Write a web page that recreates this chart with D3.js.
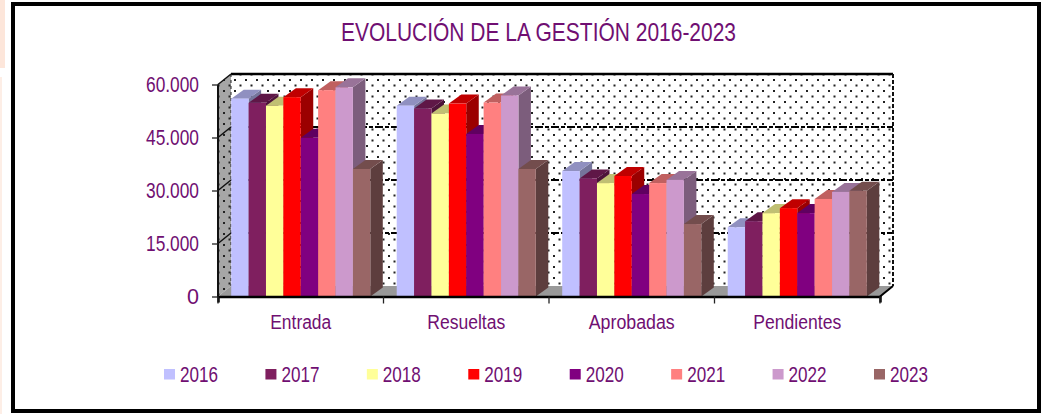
<!DOCTYPE html>
<html><head><meta charset="utf-8">
<script src="https://cdn.jsdelivr.net/npm/d3@7"></script>
<style>html,body{margin:0;padding:0;background:#fff;overflow:hidden}svg{display:block}text{font-family:"Liberation Sans",Arial,sans-serif;fill:#700f72}</style>
</head><body><svg id="c" width="1045" height="414"></svg>
<script>
const categories=["Entrada","Resueltas","Aprobadas","Pendientes"];
const years=["2016","2017","2018","2019","2020","2021","2022","2023"];
const s2016=[56000,54000,35500,19600];
const s2017=[54800,53200,33400,21300];
const s2018=[54000,51800,32100,23600];
const s2019=[56400,54600,34100,25000];
const s2020=[44900,46000,29000,23600];
const s2021=[58400,54900,32100,27600];
const s2022=[59200,56900,33000,29600];
const s2023=[36100,36100,20500,29900];
const series=[s2016,s2017,s2018,s2019,s2020,s2021,s2022,s2023];
const colors=["#c0c0ff","#7f1f5f","#ffff99","#ff0000","#800080","#ff8080","#cc99cc","#996666"];
const yTicks=[0,15000,30000,45000,60000];
const yLabels=["0","15.000","30.000","45.000","60.000"];

const svg=d3.select("#c");
const L=218,R=880,B=296.5,T=84.5,DX=13,DY=10.5,BDX=12.5,BDY=9;
const x=d3.scaleBand().domain(categories).range([L,R]);
const bx=d3.scaleBand().domain(years).range([0,x.bandwidth()]).paddingOuter(0.76);
const y=d3.scaleLinear().domain([0,60000]).range([B,T]);
const defs=svg.append("defs");
function pat(id,bg){const p=defs.append("pattern").attr("id",id).attr("width",11).attr("height",11).attr("patternUnits","userSpaceOnUse");
 p.append("rect").attr("width",11).attr("height",11).attr("fill",bg);
 p.append("rect").attr("x",3).attr("y",2).attr("width",2).attr("height",2).attr("fill","#222");
 p.append("rect").attr("x",8.5).attr("y",7.5).attr("width",2).attr("height",2).attr("fill","#222");}
pat("pw","#fff");pat("pg","#a6a6a6");

// page edge and frame
svg.append("rect").attr("x",0).attr("y",0).attr("width",5).attr("height",68).attr("fill","#fde6da");
svg.append("rect").attr("x",0).attr("y",77).attr("width",2).attr("height",337).attr("fill","#fdeee6");
svg.append("rect").attr("x",13).attr("y",4).attr("width",1026).attr("height",407).attr("fill","#fff").attr("stroke","#000").attr("stroke-width",4);

svg.append("text").attr("x",341).attr("y",41).attr("font-size",26).attr("textLength",395).attr("lengthAdjust","spacingAndGlyphs").text("EVOLUCIÓN DE LA GESTIÓN 2016-2023");

// walls
svg.append("rect").attr("x",L+DX).attr("y",T-DY).attr("width",R-L).attr("height",B-T).attr("fill","url(#pw)");
svg.append("path").attr("d",`M${L},${T}L${L+DX},${T-DY}V${B-DY}L${L},${B}Z`).attr("fill","url(#pg)");
svg.append("path").attr("d",`M${L},${B}L${L+DX},${B-DY}H${R+DX}L${R},${B}Z`).attr("fill","#999");
// gridlines
yTicks.slice(1).forEach(v=>{
 const yy=y(v)-DY;
 svg.append("line").attr("x1",L+DX).attr("x2",R+DX).attr("y1",yy).attr("y2",yy).attr("stroke","#000").attr("stroke-width",v===60000?2.5:2).attr("stroke-dasharray",v===60000?null:"8 2 4 2");
 svg.append("line").attr("x1",L).attr("x2",L+DX).attr("y1",y(v)).attr("y2",yy).attr("stroke","#111").attr("stroke-width",1.5);
});
svg.append("line").attr("x1",R+DX).attr("x2",R+DX).attr("y1",T-DY).attr("y2",B-DY).attr("stroke","#111").attr("stroke-width",2).attr("stroke-dasharray","4 2");
svg.append("line").attr("x1",L+DX).attr("x2",L+DX).attr("y1",T-DY).attr("y2",B-DY).attr("stroke","#222").attr("stroke-width",1).attr("stroke-dasharray","3 3");
svg.append("line").attr("x1",R).attr("x2",R+DX).attr("y1",B).attr("y2",B-DY).attr("stroke","#000").attr("stroke-width",2);
svg.append("line").attr("x1",L).attr("x2",L).attr("y1",T).attr("y2",B).attr("stroke","#111").attr("stroke-width",2);

// bars: 3D boxes drawn left to right
function shade(c,k){return d3.rgb(c).darker(k).formatHex();}
categories.forEach((cat,ci)=>{
 years.forEach((yr,si)=>{
  const v=series[si][ci],x0=x(cat)+bx(yr),w=bx.bandwidth(),t=y(v),g=svg.append("g");
  const c=colors[si];
  g.append("path").attr("d",`M${x0+w},${t}l${BDX},${-BDY}V${B-BDY}L${x0+w},${B}Z`).attr("fill",shade(c,1.4));
  g.append("path").attr("d",`M${x0},${t}l${BDX},${-BDY}h${w}l${-BDX},${BDY}Z`).attr("fill",shade(c,0.8));
  g.append("rect").attr("x",x0).attr("y",t).attr("width",w).attr("height",B-t).attr("fill",c);
 });
});

// axes
const yAxis=d3.axisLeft(y).tickValues(yTicks).tickFormat((d,i)=>yLabels[i]).tickSize(6).tickPadding(13);
const gy=svg.append("g").attr("transform",`translate(${L},0)`).call(yAxis);
gy.select("path").remove();
gy.selectAll("line").attr("stroke","#222").attr("stroke-width",1.3);
gy.selectAll("text").attr("font-size",22).attr("font-family",null).attr("textLength",d=>d===0?12:53).attr("lengthAdjust","spacingAndGlyphs").attr("dy","0.33em");
const xAxis=d3.axisBottom(x).tickFormat("").tickSize(6);
const gx=svg.append("g").attr("transform",`translate(0,${B})`).call(xAxis);
gx.selectAll(".tick").remove();
[...categories.map(c=>x(c)),R].forEach(px=>gx.append("line").attr("x1",px).attr("x2",px).attr("y1",0).attr("y2",7).attr("stroke","#222").attr("stroke-width",1.3));
gx.select("path").attr("stroke","#000").attr("stroke-width",2.5);
const catW={Entrada:61,Resueltas:78,Aprobadas:86,Pendientes:88};
categories.forEach(c=>svg.append("text").attr("x",x(c)+x.bandwidth()/2).attr("y",329).attr("text-anchor","middle").attr("font-size",20).attr("textLength",catW[c]).attr("lengthAdjust","spacingAndGlyphs").text(c));

// legend
const lx=d3.scalePoint().domain(years).range([164,874]);
years.forEach((yr,i)=>{
 svg.append("rect").attr("x",lx(yr)).attr("y",369).attr("width",11).attr("height",10.5).attr("fill",colors[i]);
 svg.append("text").attr("x",lx(yr)+16).attr("y",382).attr("font-size",22).attr("textLength",38).attr("lengthAdjust","spacingAndGlyphs").text(yr);
});
</script></body></html>
